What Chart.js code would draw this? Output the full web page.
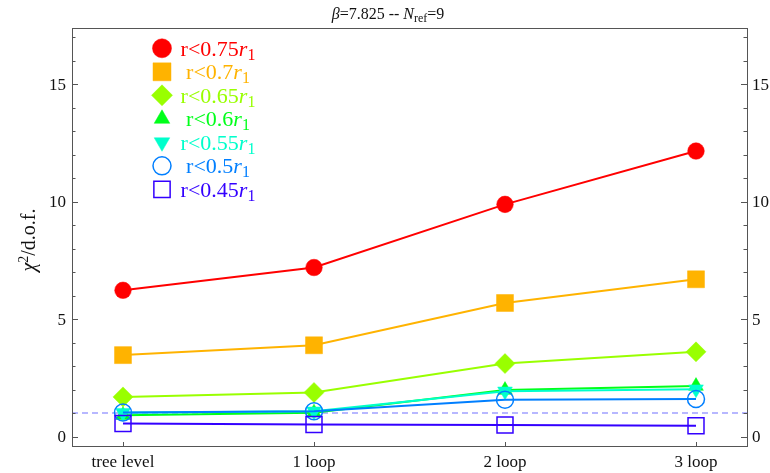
<!DOCTYPE html>
<html>
<head>
<meta charset="utf-8">
<script src="https://cdn.jsdelivr.net/npm/chart.js@4.4.0/dist/chart.umd.min.js"></script>
<style>
html, body { margin: 0; padding: 0; background: #fff; }
#wrap { width: 770px; height: 473px; position: relative; }
</style>
</head>
<body>
<div id="wrap"><canvas id="chart"></canvas></div>
<script>
// --- DATA ---
const categories = ["tree level", "1 loop", "2 loop", "3 loop"];
const radii = ["0.75", "0.7", "0.65", "0.6", "0.55", "0.5", "0.45"];
const chi075 = [6.23, 7.20, 9.89, 12.16];
const chi070 = [3.47, 3.89, 5.69, 6.70];
const chi065 = [1.69, 1.88, 3.11, 3.61];
const chi060 = [0.91, 1.02, 1.98, 2.15];
const chi055 = [1.02, 1.08, 1.93, 2.02];
const chi050 = [1.03, 1.08, 1.57, 1.60];
const chi045 = [0.56, 0.52, 0.49, 0.46];
const yTickLabels = [0, 5, 10, 15];
const refLine = 1;

const FONT = '"Liberation Serif", "Times New Roman", serif';

// stil per seri (warna hue, bentuk marker)
const seriesStyle = [
  { vals: chi075, color: '#ff0000', fill: true,  shape: 'circle',   r: 8.3,  lr: 9.5,  rot: 0 },
  { vals: chi070, color: '#ffb300', fill: true,  shape: 'rect',     r: 12,   lr: 12.7, rot: 0 },
  { vals: chi065, color: '#99ff00', fill: true,  shape: 'rectRot',  r: 10,   lr: 10.5, rot: 0 },
  { vals: chi060, color: '#00ff1a', fill: true,  shape: 'triangle', r: 8.5,  lr: 9,    rot: 0 },
  { vals: chi055, color: '#00ffcc', fill: true,  shape: 'triangle', r: 8.5,  lr: 9,    rot: 180 },
  { vals: chi050, color: '#007fff', fill: false, shape: 'circle',   r: 8.5,  lr: 9,    rot: 0 },
  { vals: chi045, color: '#3300ff', fill: false, shape: 'rect',     r: 11.3, lr: 11.5, rot: 0 }
];

const datasets = seriesStyle.map((s, k) => ({
  label: 'r<' + radii[k] + 'r1',
  data: s.vals.map((v, i) => ({ x: i, y: v })),
  borderColor: s.color,
  backgroundColor: s.fill ? s.color : 'rgba(0,0,0,0)',
  pointBorderColor: s.color,
  pointBackgroundColor: s.fill ? s.color : 'rgba(0,0,0,0)',
  borderWidth: 2,
  pointStyle: s.shape,
  pointRadius: s.r,
  pointHoverRadius: s.r,
  pointRotation: s.rot,
  pointBorderWidth: s.fill ? 0.5 : 1.5,
  tension: 0,
  order: 7 - k
}));

// teks dengan italic / subscript / superscript
function drawRich(ctx, parts, x, y, size, align) {
  const fontFor = p => (p.i ? 'italic ' : '') + (p.sub || p.sup ? Math.round(size * 0.72) : size) + 'px ' + FONT;
  let w = 0;
  parts.forEach(p => { ctx.font = fontFor(p); w += ctx.measureText(p.t).width; });
  let cx = align === 'center' ? x - w / 2 : (align === 'right' ? x - w : x);
  ctx.textAlign = 'left';
  parts.forEach(p => {
    ctx.font = fontFor(p);
    const dy = p.sub ? size * 0.17 : (p.sup ? -size * 0.36 : 0);
    ctx.fillText(p.t, cx, y + dy);
    cx += ctx.measureText(p.t).width;
  });
}

const framePlugin = {
  id: 'frame',
  beforeDatasetsDraw(chart) {
    const { ctx, chartArea: a, scales: { y } } = chart;
    const py = y.getPixelForValue(refLine);
    ctx.save();
    ctx.strokeStyle = '#a0a0ff';
    ctx.lineWidth = 1.5;
    ctx.setLineDash([6, 4]);
    ctx.beginPath();
    ctx.moveTo(a.left, py);
    ctx.lineTo(a.right, py);
    ctx.stroke();
    ctx.restore();
  },
  afterDraw(chart) {
    const { ctx, chartArea: a, scales: { x, y } } = chart;
    ctx.save();
    // bingkai
    ctx.strokeStyle = '#555';
    ctx.lineWidth = 1;
    ctx.strokeRect(Math.round(a.left) + 0.5, Math.round(a.top) + 0.5,
      Math.round(a.right - a.left), Math.round(a.bottom - a.top));

    // tick sumbu y kiri & kanan (ke dalam)
    ctx.beginPath();
    for (let v = Math.ceil(y.min); v <= Math.floor(y.max); v++) {
      const py = Math.round(y.getPixelForValue(v)) + 0.5;
      const len = yTickLabels.includes(v) ? 6 : 3.5;
      ctx.moveTo(a.left, py); ctx.lineTo(a.left + len, py);
      ctx.moveTo(a.right, py); ctx.lineTo(a.right - len, py);
    }
    // tick sumbu x bawah
    categories.forEach((c, i) => {
      const px = Math.round(x.getPixelForValue(i)) + 0.5;
      ctx.moveTo(px, a.bottom); ctx.lineTo(px, a.bottom - 4);
    });
    ctx.stroke();

    // label tick
    ctx.fillStyle = '#111';
    ctx.font = '17px ' + FONT;
    ctx.textBaseline = 'middle';
    yTickLabels.forEach(v => {
      const py = y.getPixelForValue(v) + 1;
      ctx.textAlign = 'right';
      ctx.fillText(String(v), a.left - 6, py);
      ctx.textAlign = 'left';
      ctx.fillText(String(v), a.right + 5, py);
    });
    ctx.textBaseline = 'alphabetic';
    ctx.textAlign = 'center';
    categories.forEach((c, i) => {
      ctx.fillText(c, x.getPixelForValue(i), a.bottom + 21);
    });

    // judul sumbu y
    ctx.save();
    ctx.translate(35, 240);
    ctx.rotate(-Math.PI / 2);
    drawRich(ctx, [{ t: 'χ', i: true }, { t: '2', sup: true }, { t: '/d.o.f.' }], 0, 0, 20, 'center');
    ctx.restore();

    // judul atas
    drawRich(ctx, [{ t: 'β', i: true }, { t: '=7.825 -- ' }, { t: 'N', i: true }, { t: 'ref', sub: true }, { t: '=9' }],
      388, 19, 16, 'center');

    // legenda
    seriesStyle.forEach((s, k) => {
      const ly = 48.3 + k * 23.5;
      ctx.fillStyle = s.fill ? s.color : 'rgba(0,0,0,0)';
      ctx.strokeStyle = s.color;
      ctx.lineWidth = s.fill ? 0.5 : 1.5;
      Chart.helpers.drawPoint(ctx, { pointStyle: s.shape, radius: s.lr, rotation: s.rot, borderWidth: ctx.lineWidth }, 162, ly);
      ctx.fillStyle = s.color;
      ctx.strokeStyle = s.color;
      ctx.lineWidth = 0.4;
      drawRich(ctx, [{ t: 'r<' + radii[k] }, { t: 'r', i: true }, { t: '1', sub: true }], 218, ly + 7.5, 22, 'center');
    });
    ctx.restore();
  }
};

new Chart(document.getElementById('chart'), {
  type: 'line',
  data: { datasets: datasets },
  options: {
    responsive: true,
    maintainAspectRatio: false,
    animation: false,
    events: [],
    layout: { padding: { left: 72, right: 23, top: 28, bottom: 27 } },
    plugins: { legend: { display: false }, tooltip: { enabled: false }, title: { display: false } },
    scales: {
      x: { type: 'linear', min: -0.267, max: 3.267, display: false },
      y: { type: 'linear', min: -0.4, max: 17.4, display: false }
    }
  },
  plugins: [framePlugin]
});
</script>
</body>
</html>
